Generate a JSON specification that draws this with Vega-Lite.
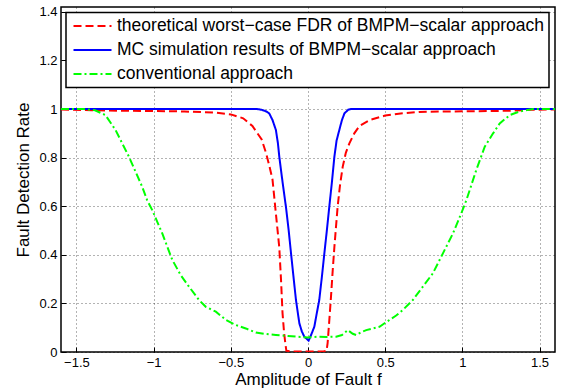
{
  "$schema": "https://vega.github.io/schema/vega-lite/v6.json",
  "width": 494,
  "height": 345,
  "autosize": {"type": "none"},
  "padding": {"left": 61, "top": 7, "right": 6, "bottom": 40},
  "config": {
    "font": "Liberation Sans",
    "view": {"stroke": "#000", "strokeWidth": 1.5},
    "axis": {
      "domain": false,
      "grid": true,
      "gridColor": "#000",
      "gridDash": [1, 3],
      "gridOpacity": 0.6,
      "tickColor": "#000",
      "tickSize": -5,
      "tickWidth": 1,
      "labelFontSize": 13,
      "labelColor": "#000",
      "labelFont": "Liberation Sans",
      "labelFlush": false,
      "labelOverlap": false,
      "titleFontSize": 17,
      "titleFontWeight": "normal",
      "titleColor": "#000",
      "titleFont": "Liberation Sans"
    },
    "legend": {
      "orient": "none", "legendX": 5, "legendY": 5.5,
      "strokeColor": "#000", "strokeWidth": 1.5, "fillColor": "#fff", "padding": 4.5,
      "symbolType": "stroke", "symbolSize": 1444, "symbolStrokeWidth": 2, "clipHeight": 18,
      "labelFontSize": 17.5, "labelColor": "#000", "labelFont": "Liberation Sans", "labelLimit": 600,
      "labelOffset": 4.5, "rowPadding": 6, "symbolOffset": 2
    }
  },
  "data": {
    "values": [
      {"x": -1.6, "y": 0.998, "s": "theoretical worst−case FDR of BMPM−scalar approach"},
      {"x": -1.4, "y": 0.995, "s": "theoretical worst−case FDR of BMPM−scalar approach"},
      {"x": -1.2, "y": 0.993, "s": "theoretical worst−case FDR of BMPM−scalar approach"},
      {"x": -1.0, "y": 0.992, "s": "theoretical worst−case FDR of BMPM−scalar approach"},
      {"x": -0.8, "y": 0.99, "s": "theoretical worst−case FDR of BMPM−scalar approach"},
      {"x": -0.6, "y": 0.985, "s": "theoretical worst−case FDR of BMPM−scalar approach"},
      {"x": -0.5, "y": 0.978, "s": "theoretical worst−case FDR of BMPM−scalar approach"},
      {"x": -0.42, "y": 0.962, "s": "theoretical worst−case FDR of BMPM−scalar approach"},
      {"x": -0.36, "y": 0.93, "s": "theoretical worst−case FDR of BMPM−scalar approach"},
      {"x": -0.3, "y": 0.875, "s": "theoretical worst−case FDR of BMPM−scalar approach"},
      {"x": -0.27, "y": 0.815, "s": "theoretical worst−case FDR of BMPM−scalar approach"},
      {"x": -0.25, "y": 0.765, "s": "theoretical worst−case FDR of BMPM−scalar approach"},
      {"x": -0.23, "y": 0.71, "s": "theoretical worst−case FDR of BMPM−scalar approach"},
      {"x": -0.208, "y": 0.57, "s": "theoretical worst−case FDR of BMPM−scalar approach"},
      {"x": -0.186, "y": 0.43, "s": "theoretical worst−case FDR of BMPM−scalar approach"},
      {"x": -0.175, "y": 0.3, "s": "theoretical worst−case FDR of BMPM−scalar approach"},
      {"x": -0.165, "y": 0.16, "s": "theoretical worst−case FDR of BMPM−scalar approach"},
      {"x": -0.155, "y": 0.08, "s": "theoretical worst−case FDR of BMPM−scalar approach"},
      {"x": -0.147, "y": 0.036, "s": "theoretical worst−case FDR of BMPM−scalar approach"},
      {"x": -0.14, "y": 0.005, "s": "theoretical worst−case FDR of BMPM−scalar approach"},
      {"x": -0.1, "y": 0.002, "s": "theoretical worst−case FDR of BMPM−scalar approach"},
      {"x": 0.0, "y": 0.002, "s": "theoretical worst−case FDR of BMPM−scalar approach"},
      {"x": 0.1, "y": 0.002, "s": "theoretical worst−case FDR of BMPM−scalar approach"},
      {"x": 0.12, "y": 0.005, "s": "theoretical worst−case FDR of BMPM−scalar approach"},
      {"x": 0.127, "y": 0.036, "s": "theoretical worst−case FDR of BMPM−scalar approach"},
      {"x": 0.138, "y": 0.13, "s": "theoretical worst−case FDR of BMPM−scalar approach"},
      {"x": 0.149, "y": 0.228, "s": "theoretical worst−case FDR of BMPM−scalar approach"},
      {"x": 0.16, "y": 0.335, "s": "theoretical worst−case FDR of BMPM−scalar approach"},
      {"x": 0.171, "y": 0.433, "s": "theoretical worst−case FDR of BMPM−scalar approach"},
      {"x": 0.182, "y": 0.52, "s": "theoretical worst−case FDR of BMPM−scalar approach"},
      {"x": 0.192, "y": 0.598, "s": "theoretical worst−case FDR of BMPM−scalar approach"},
      {"x": 0.207, "y": 0.685, "s": "theoretical worst−case FDR of BMPM−scalar approach"},
      {"x": 0.225, "y": 0.763, "s": "theoretical worst−case FDR of BMPM−scalar approach"},
      {"x": 0.245, "y": 0.82, "s": "theoretical worst−case FDR of BMPM−scalar approach"},
      {"x": 0.268, "y": 0.859, "s": "theoretical worst−case FDR of BMPM−scalar approach"},
      {"x": 0.3, "y": 0.9, "s": "theoretical worst−case FDR of BMPM−scalar approach"},
      {"x": 0.333, "y": 0.93, "s": "theoretical worst−case FDR of BMPM−scalar approach"},
      {"x": 0.4, "y": 0.955, "s": "theoretical worst−case FDR of BMPM−scalar approach"},
      {"x": 0.5, "y": 0.973, "s": "theoretical worst−case FDR of BMPM−scalar approach"},
      {"x": 0.6, "y": 0.982, "s": "theoretical worst−case FDR of BMPM−scalar approach"},
      {"x": 0.72, "y": 0.988, "s": "theoretical worst−case FDR of BMPM−scalar approach"},
      {"x": 0.9, "y": 0.99, "s": "theoretical worst−case FDR of BMPM−scalar approach"},
      {"x": 1.1, "y": 0.991, "s": "theoretical worst−case FDR of BMPM−scalar approach"},
      {"x": 1.3, "y": 0.993, "s": "theoretical worst−case FDR of BMPM−scalar approach"},
      {"x": 1.45, "y": 0.997, "s": "theoretical worst−case FDR of BMPM−scalar approach"},
      {"x": 1.6, "y": 0.998, "s": "theoretical worst−case FDR of BMPM−scalar approach"},

      {"x": -1.6, "y": 1.0, "s": "MC simulation results of BMPM−scalar approach"},
      {"x": -0.33, "y": 1.0, "s": "MC simulation results of BMPM−scalar approach"},
      {"x": -0.3, "y": 0.997, "s": "MC simulation results of BMPM−scalar approach"},
      {"x": -0.27, "y": 0.99, "s": "MC simulation results of BMPM−scalar approach"},
      {"x": -0.251, "y": 0.982, "s": "MC simulation results of BMPM−scalar approach"},
      {"x": -0.23, "y": 0.955, "s": "MC simulation results of BMPM−scalar approach"},
      {"x": -0.208, "y": 0.914, "s": "MC simulation results of BMPM−scalar approach"},
      {"x": -0.195, "y": 0.86, "s": "MC simulation results of BMPM−scalar approach"},
      {"x": -0.186, "y": 0.804, "s": "MC simulation results of BMPM−scalar approach"},
      {"x": -0.165, "y": 0.7, "s": "MC simulation results of BMPM−scalar approach"},
      {"x": -0.143, "y": 0.598, "s": "MC simulation results of BMPM−scalar approach"},
      {"x": -0.125, "y": 0.5, "s": "MC simulation results of BMPM−scalar approach"},
      {"x": -0.11, "y": 0.406, "s": "MC simulation results of BMPM−scalar approach"},
      {"x": -0.094, "y": 0.31, "s": "MC simulation results of BMPM−scalar approach"},
      {"x": -0.078, "y": 0.214, "s": "MC simulation results of BMPM−scalar approach"},
      {"x": -0.056, "y": 0.118, "s": "MC simulation results of BMPM−scalar approach"},
      {"x": -0.04, "y": 0.085, "s": "MC simulation results of BMPM−scalar approach"},
      {"x": -0.024, "y": 0.063, "s": "MC simulation results of BMPM−scalar approach"},
      {"x": 0.004, "y": 0.047, "s": "MC simulation results of BMPM−scalar approach"},
      {"x": 0.02, "y": 0.07, "s": "MC simulation results of BMPM−scalar approach"},
      {"x": 0.041, "y": 0.104, "s": "MC simulation results of BMPM−scalar approach"},
      {"x": 0.057, "y": 0.16, "s": "MC simulation results of BMPM−scalar approach"},
      {"x": 0.073, "y": 0.214, "s": "MC simulation results of BMPM−scalar approach"},
      {"x": 0.09, "y": 0.31, "s": "MC simulation results of BMPM−scalar approach"},
      {"x": 0.106, "y": 0.406, "s": "MC simulation results of BMPM−scalar approach"},
      {"x": 0.122, "y": 0.5, "s": "MC simulation results of BMPM−scalar approach"},
      {"x": 0.138, "y": 0.598, "s": "MC simulation results of BMPM−scalar approach"},
      {"x": 0.155, "y": 0.7, "s": "MC simulation results of BMPM−scalar approach"},
      {"x": 0.171, "y": 0.804, "s": "MC simulation results of BMPM−scalar approach"},
      {"x": 0.185, "y": 0.87, "s": "MC simulation results of BMPM−scalar approach"},
      {"x": 0.203, "y": 0.914, "s": "MC simulation results of BMPM−scalar approach"},
      {"x": 0.22, "y": 0.955, "s": "MC simulation results of BMPM−scalar approach"},
      {"x": 0.236, "y": 0.982, "s": "MC simulation results of BMPM−scalar approach"},
      {"x": 0.26, "y": 0.997, "s": "MC simulation results of BMPM−scalar approach"},
      {"x": 0.279, "y": 1.0, "s": "MC simulation results of BMPM−scalar approach"},
      {"x": 1.6, "y": 1.0, "s": "MC simulation results of BMPM−scalar approach"},

      {"x": -1.6, "y": 1.0, "s": "conventional approach"},
      {"x": -1.45, "y": 1.0, "s": "conventional approach"},
      {"x": -1.38, "y": 0.995, "s": "conventional approach"},
      {"x": -1.312, "y": 0.975, "s": "conventional approach"},
      {"x": -1.247, "y": 0.914, "s": "conventional approach"},
      {"x": -1.16, "y": 0.804, "s": "conventional approach"},
      {"x": -1.074, "y": 0.68, "s": "conventional approach"},
      {"x": -1.042, "y": 0.625, "s": "conventional approach"},
      {"x": -1.009, "y": 0.584, "s": "conventional approach"},
      {"x": -0.944, "y": 0.488, "s": "conventional approach"},
      {"x": -0.879, "y": 0.379, "s": "conventional approach"},
      {"x": -0.825, "y": 0.317, "s": "conventional approach"},
      {"x": -0.771, "y": 0.269, "s": "conventional approach"},
      {"x": -0.706, "y": 0.214, "s": "conventional approach"},
      {"x": -0.662, "y": 0.186, "s": "conventional approach"},
      {"x": -0.597, "y": 0.166, "s": "conventional approach"},
      {"x": -0.532, "y": 0.132, "s": "conventional approach"},
      {"x": -0.468, "y": 0.111, "s": "conventional approach"},
      {"x": -0.403, "y": 0.097, "s": "conventional approach"},
      {"x": -0.338, "y": 0.08, "s": "conventional approach"},
      {"x": -0.273, "y": 0.074, "s": "conventional approach"},
      {"x": -0.208, "y": 0.07, "s": "conventional approach"},
      {"x": -0.13, "y": 0.066, "s": "conventional approach"},
      {"x": -0.05, "y": 0.062, "s": "conventional approach"},
      {"x": 0.0, "y": 0.06, "s": "conventional approach"},
      {"x": 0.06, "y": 0.063, "s": "conventional approach"},
      {"x": 0.12, "y": 0.062, "s": "conventional approach"},
      {"x": 0.182, "y": 0.063, "s": "conventional approach"},
      {"x": 0.22, "y": 0.07, "s": "conventional approach"},
      {"x": 0.257, "y": 0.09, "s": "conventional approach"},
      {"x": 0.29, "y": 0.075, "s": "conventional approach"},
      {"x": 0.312, "y": 0.07, "s": "conventional approach"},
      {"x": 0.345, "y": 0.082, "s": "conventional approach"},
      {"x": 0.377, "y": 0.09, "s": "conventional approach"},
      {"x": 0.42, "y": 0.097, "s": "conventional approach"},
      {"x": 0.463, "y": 0.104, "s": "conventional approach"},
      {"x": 0.528, "y": 0.132, "s": "conventional approach"},
      {"x": 0.571, "y": 0.15, "s": "conventional approach"},
      {"x": 0.614, "y": 0.173, "s": "conventional approach"},
      {"x": 0.679, "y": 0.214, "s": "conventional approach"},
      {"x": 0.744, "y": 0.269, "s": "conventional approach"},
      {"x": 0.809, "y": 0.324, "s": "conventional approach"},
      {"x": 0.874, "y": 0.406, "s": "conventional approach"},
      {"x": 0.939, "y": 0.488, "s": "conventional approach"},
      {"x": 0.993, "y": 0.571, "s": "conventional approach"},
      {"x": 1.026, "y": 0.625, "s": "conventional approach"},
      {"x": 1.09, "y": 0.749, "s": "conventional approach"},
      {"x": 1.145, "y": 0.845, "s": "conventional approach"},
      {"x": 1.199, "y": 0.9, "s": "conventional approach"},
      {"x": 1.242, "y": 0.941, "s": "conventional approach"},
      {"x": 1.307, "y": 0.975, "s": "conventional approach"},
      {"x": 1.372, "y": 0.99, "s": "conventional approach"},
      {"x": 1.457, "y": 1.0, "s": "conventional approach"},
      {"x": 1.6, "y": 1.0, "s": "conventional approach"}
    ]
  },
  "mark": {"type": "line", "strokeWidth": 2, "clip": true},
  "encoding": {
    "x": {"field": "x", "type": "quantitative", "scale": {"domain": [-1.6, 1.6], "nice": false, "zero": false},
          "axis": {"values": [-1.5, -1, -0.5, 0, 0.5, 1, 1.5], "format": "~g", "title": "Amplitude of Fault f", "labelPadding": 9, "titlePadding": 2}},
    "y": {"field": "y", "type": "quantitative", "scale": {"domain": [0, 1.42], "nice": false, "zero": false},
          "axis": {"values": [0, 0.2, 0.4, 0.6, 0.8, 1, 1.2, 1.4], "format": "~g", "title": "Fault Detection Rate", "labelPadding": 9, "titlePadding": 6}},
    "color": {
      "field": "s", "type": "nominal", "title": null,
      "scale": {
        "domain": ["theoretical worst−case FDR of BMPM−scalar approach", "MC simulation results of BMPM−scalar approach", "conventional approach"],
        "range": ["#ff0000", "#0000ff", "#00ff00"]
      }
    },
    "strokeDash": {
      "field": "s", "type": "nominal", "title": null,
      "scale": {
        "domain": ["theoretical worst−case FDR of BMPM−scalar approach", "MC simulation results of BMPM−scalar approach", "conventional approach"],
        "range": [[8, 4], [1, 0], [8, 3, 2, 3]]
      }
    }
  }
}
